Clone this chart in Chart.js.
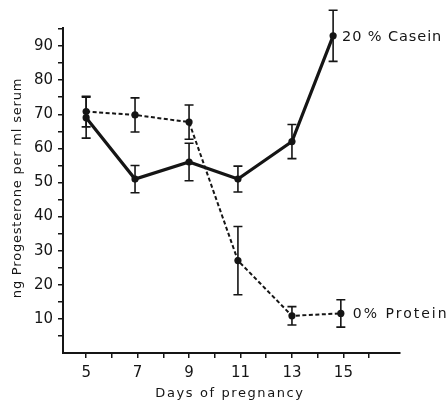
<!DOCTYPE html>
<html>
<head>
<meta charset="utf-8">
<script src="https://cdn.jsdelivr.net/npm/chart.js@4"></script>
<style>
  html, body { margin: 0; padding: 0; background: #fff; }
  #chart { display: block; }
</style>
</head>
<body>
<canvas id="chart" width="448" height="402"></canvas>
<script>
// values
const caseinDays = [5, 6.9, 9, 10.9, 13, 14.6];
const caseinValues = [69, 51, 56, 51, 62, 93];
const caseinErr = [6, 4, 5.5, 3.8, 5, 7.5];

const proteinDays = [5, 6.9, 9, 10.9, 13, 14.9];
const proteinValues = [70.8, 69.8, 67.7, 27.1, 10.9, 11.6];
const proteinErr = [4.5, 5, 5, 10, 2.7, 4];

const seriesNames = ["20 % Casein", "0% Protein"];
const xTickValues = [5, 6, 7, 8, 9, 10, 11, 12, 13, 14, 15, 16];
const xLabelValues = [5, 7, 9, 11, 13, 15];
const yTickValues = [5, 10, 15, 20, 25, 30, 35, 40, 45, 50, 55, 60, 65, 70, 75, 80, 85, 90, 95];

const ink = "#151515";
const fontFamily = "'DejaVu Sans', sans-serif";

function toPoints(xs, ys) {
  return xs.map((x, i) => ({ x: x, y: ys[i] }));
}

// error bars + end labels + axis titles
const decorations = {
  id: "decorations",
  afterDatasetsDraw(chart) {
    const ctx = chart.ctx;
    const xs = chart.scales.x, ys = chart.scales.y;
    const errs = [caseinErr, proteinErr];
    ctx.save();
    ctx.strokeStyle = ink;
    ctx.lineWidth = 1.6;
    chart.data.datasets.forEach((ds, d) => {
      ds.data.forEach((p, i) => {
        const px = xs.getPixelForValue(p.x);
        const top = ys.getPixelForValue(p.y + errs[d][i]);
        const bot = ys.getPixelForValue(p.y - errs[d][i]);
        ctx.beginPath();
        ctx.moveTo(px, top); ctx.lineTo(px, bot);
        ctx.moveTo(px - 4.5, top); ctx.lineTo(px + 4.5, top);
        ctx.moveTo(px - 4.5, bot); ctx.lineTo(px + 4.5, bot);
        ctx.stroke();
      });
    });

    // series labels next to the last point
    ctx.fillStyle = ink;
    ctx.textBaseline = "alphabetic";
    ctx.textAlign = "left";
    ctx.font = "14.5px " + fontFamily;
    ctx.letterSpacing = "0.9px";
    const c = chart.getDatasetMeta(0).data[caseinDays.length - 1];
    ctx.fillText(seriesNames[0], c.x + 9, c.y + 5);
    ctx.font = "14px " + fontFamily;
    ctx.letterSpacing = "2px";
    const p = chart.getDatasetMeta(1).data[proteinDays.length - 1];
    ctx.fillText(seriesNames[1], p.x + 12, p.y + 5);

    // axis titles
    ctx.font = "13px " + fontFamily;
    ctx.letterSpacing = "1.6px";
    ctx.textAlign = "center";
    ctx.fillText("Days of pregnancy", 230, 397);
    ctx.save();
    ctx.translate(21, 188);
    ctx.rotate(-Math.PI / 2);
    ctx.letterSpacing = "0.8px";
    ctx.fillText("ng Progesterone per ml serum", 0, 0);
    ctx.restore();
    ctx.restore();
  }
};

new Chart(document.getElementById("chart"), {
  type: "line",
  data: {
    datasets: [
      {
        label: seriesNames[0],
        data: toPoints(caseinDays, caseinValues),
        borderColor: ink,
        borderWidth: 3.2,
        pointRadius: 3.6,
        pointBackgroundColor: ink,
        pointBorderWidth: 0,
        tension: 0
      },
      {
        label: seriesNames[1],
        data: toPoints(proteinDays, proteinValues),
        borderColor: ink,
        borderWidth: 2,
        borderDash: [4, 2.5],
        pointRadius: 3.6,
        pointBackgroundColor: ink,
        pointBorderWidth: 0,
        tension: 0
      }
    ]
  },
  options: {
    responsive: false,
    animation: false,
    devicePixelRatio: 1,
    layout: { padding: { top: 28, right: 48, left: 0, bottom: 0 } },
    plugins: { legend: { display: false }, tooltip: { enabled: false } },
    scales: {
      x: {
        type: "linear",
        min: 4.1,
        max: 17.2,
        afterBuildTicks: axis => { axis.ticks = xTickValues.map(v => ({ value: v })); },
        afterFit: axis => { axis.height = 49; },
        ticks: {
          autoSkip: false,
          maxRotation: 0,
          padding: 6,
          color: ink,
          font: { family: fontFamily, size: 15 },
          callback: v => xLabelValues.includes(v) ? String(v) : ""
        },
        grid: { drawOnChartArea: false, drawTicks: true, tickLength: 5, color: ink, lineWidth: 1.5 },
        border: { color: ink, width: 2 }
      },
      y: {
        min: 0,
        max: 95.3,
        afterBuildTicks: axis => { axis.ticks = yTickValues.map(v => ({ value: v })); },
        afterFit: axis => { axis.width = 63; },
        ticks: {
          autoSkip: false,
          padding: 5,
          color: ink,
          font: { family: fontFamily, size: 15 },
          callback: v => v % 10 === 0 ? String(v) : ""
        },
        grid: { drawOnChartArea: false, drawTicks: true, tickLength: 5, color: ink, lineWidth: 1.5 },
        border: { color: ink, width: 2 }
      }
    }
  },
  plugins: [decorations]
});
</script>
</body>
</html>
